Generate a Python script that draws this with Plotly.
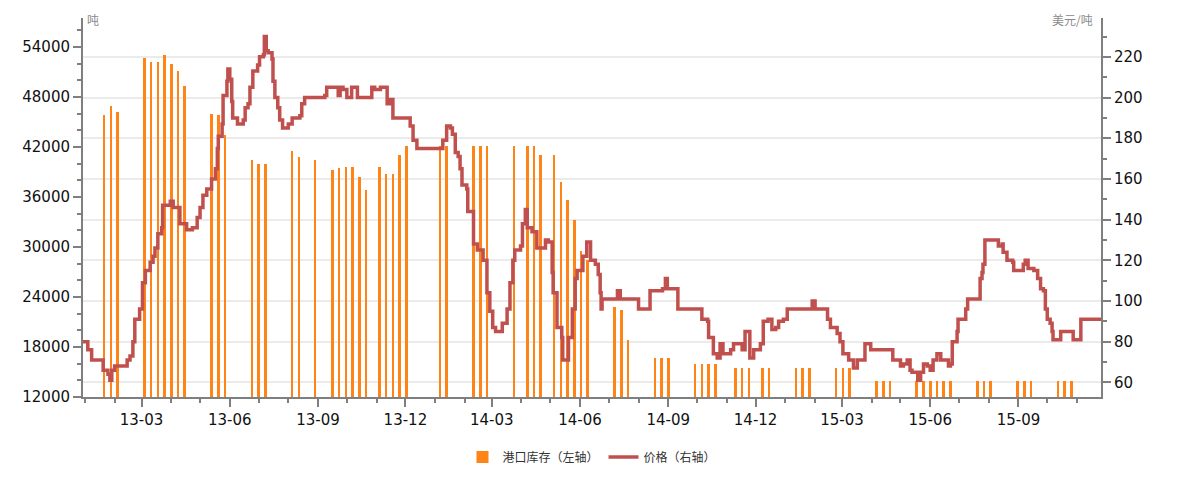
import plotly.graph_objects as go

# Weekly port stock (tonnes, left axis)
stock_dates = [
    "2013-01-21", "2013-01-28", "2013-02-04",
    "2013-03-04", "2013-03-11", "2013-03-18", "2013-03-25", "2013-04-01", "2013-04-08", "2013-04-15",
    "2013-05-13", "2013-05-20", "2013-05-27",
    "2013-06-24", "2013-07-01", "2013-07-08",
    "2013-08-05", "2013-08-12", "2013-08-29",
    "2013-09-16", "2013-09-23", "2013-09-30", "2013-10-07", "2013-10-14", "2013-10-21",
    "2013-11-04", "2013-11-11", "2013-11-18", "2013-11-25", "2013-12-02",
    "2014-01-06", "2014-01-13",
    "2014-02-10", "2014-02-17", "2014-02-24",
    "2014-03-24", "2014-04-07", "2014-04-14", "2014-04-21",
    "2014-05-05", "2014-05-12", "2014-05-19", "2014-05-26", "2014-06-02", "2014-06-09",
    "2014-07-07", "2014-07-14", "2014-07-21",
    "2014-08-18", "2014-08-25", "2014-09-01",
    "2014-09-29", "2014-10-06", "2014-10-13", "2014-10-20",
    "2014-11-10", "2014-11-17", "2014-11-24",
    "2014-12-08", "2014-12-15",
    "2015-01-12", "2015-01-19", "2015-01-26",
    "2015-02-23", "2015-03-02", "2015-03-09",
    "2015-04-06", "2015-04-13", "2015-04-20",
    "2015-05-18", "2015-05-25", "2015-06-01", "2015-06-08", "2015-06-15", "2015-06-22",
    "2015-07-20", "2015-07-27", "2015-08-03",
    "2015-08-31", "2015-09-07", "2015-09-14",
    "2015-10-12", "2015-10-19", "2015-10-26",
]
stock_values = [
    45800, 46900, 46200,
    52700, 52250, 52250, 53100, 52000, 51100, 49300,
    45950, 45800, 43500,
    40500, 40000, 40000,
    41500, 40850, 40500,
    39300, 39500, 39650, 39650, 38400, 36900,
    39650, 38800, 38800, 41050, 42100,
    42100, 42100,
    42100, 42100, 42100,
    42100, 42100, 42100, 41050,
    41050, 37800, 35700, 33300, 29500, 28500,
    22850, 22500, 18900,
    16700, 16700, 16700,
    16000, 16000, 16000, 16000,
    15500, 15500, 15500,
    15500, 15500,
    15500, 15500, 15500,
    15500, 15500, 15500,
    13900, 13900, 13900,
    13900, 13900, 13900, 13900, 13900, 13900,
    13900, 13900, 13900,
    13900, 13900, 13900,
    13900, 13900, 13900,
]

# Price (USD/tonne, right axis)
price_dates = [
    "2012-12-30", "2013-01-03", "2013-01-04", "2013-01-08", "2013-01-19", "2013-01-20", "2013-01-25",
    "2013-01-27", "2013-01-29", "2013-02-01", "2013-02-14", "2013-02-17", "2013-02-20", "2013-02-22",
    "2013-02-27", "2013-03-02", "2013-03-05", "2013-03-10", "2013-03-13", "2013-03-15", "2013-03-18",
    "2013-03-22", "2013-03-23", "2013-03-31", "2013-04-03", "2013-04-10", "2013-04-17", "2013-04-23",
    "2013-04-28", "2013-05-01", "2013-05-04", "2013-05-08", "2013-05-13", "2013-05-17", "2013-05-19",
    "2013-05-20", "2013-05-24", "2013-05-25", "2013-05-29", "2013-05-30", "2013-06-01", "2013-06-03",
    "2013-06-04", "2013-06-09", "2013-06-15", "2013-06-17", "2013-06-20", "2013-06-22", "2013-06-25",
    "2013-06-30", "2013-07-02", "2013-07-06", "2013-07-07", "2013-07-09", "2013-07-11", "2013-07-15",
    "2013-07-16", "2013-07-18", "2013-07-21", "2013-07-23", "2013-07-26", "2013-08-01", "2013-08-05",
    "2013-08-13", "2013-08-15", "2013-08-18", "2013-09-08", "2013-09-10", "2013-09-21", "2013-09-22",
    "2013-09-24", "2013-09-27", "2013-10-01", "2013-10-06", "2013-10-12", "2013-10-23", "2013-10-27",
    "2013-10-30", "2013-11-05", "2013-11-10", "2013-11-12", "2013-11-15", "2013-11-18", "2013-12-01",
    "2013-12-06", "2013-12-09", "2013-12-13", "2014-01-06", "2014-01-09", "2014-01-13", "2014-01-17",
    "2014-01-19", "2014-01-22", "2014-01-25", "2014-01-27", "2014-01-29", "2014-02-03", "2014-02-04",
    "2014-02-10", "2014-02-14", "2014-02-20", "2014-02-24", "2014-02-27", "2014-03-02", "2014-03-05",
    "2014-03-10", "2014-03-12", "2014-03-17", "2014-03-20", "2014-03-23", "2014-03-25", "2014-03-31",
    "2014-04-02", "2014-04-05", "2014-04-07", "2014-04-12", "2014-04-17", "2014-04-24", "2014-04-26",
    "2014-04-29", "2014-05-03", "2014-05-04", "2014-05-08", "2014-05-13", "2014-05-14", "2014-05-19",
    "2014-05-20", "2014-05-24", "2014-05-27", "2014-05-29", "2014-06-01", "2014-06-04", "2014-06-08",
    "2014-06-12", "2014-06-17", "2014-06-20", "2014-06-22", "2014-06-23", "2014-06-24", "2014-07-06",
    "2014-07-10", "2014-07-13", "2014-07-29", "2014-08-01", "2014-08-11", "2014-08-13", "2014-08-26",
    "2014-08-29", "2014-08-31", "2014-09-08", "2014-09-11", "2014-10-04", "2014-10-06", "2014-10-12",
    "2014-10-13", "2014-10-18", "2014-10-22", "2014-10-25", "2014-10-28", "2014-11-05", "2014-11-08",
    "2014-11-15", "2014-11-17", "2014-11-20", "2014-11-23", "2014-11-25", "2014-11-29", "2014-12-06",
    "2014-12-09", "2014-12-14", "2014-12-18", "2014-12-22", "2014-12-25", "2014-12-30", "2015-01-03",
    "2015-01-27", "2015-01-29", "2015-02-01", "2015-02-10", "2015-02-14", "2015-02-17", "2015-02-24",
    "2015-02-27", "2015-03-02", "2015-03-08", "2015-03-13", "2015-03-17", "2015-03-22", "2015-03-25",
    "2015-03-29", "2015-03-31", "2015-04-18", "2015-04-23", "2015-04-28", "2015-05-01", "2015-05-04",
    "2015-05-08", "2015-05-11", "2015-05-13", "2015-05-19", "2015-05-22", "2015-05-25", "2015-05-29",
    "2015-06-01", "2015-06-04", "2015-06-08", "2015-06-12", "2015-06-17", "2015-06-20", "2015-06-22",
    "2015-06-24", "2015-06-29", "2015-06-30", "2015-07-06", "2015-07-08", "2015-07-10", "2015-07-21",
    "2015-07-23", "2015-07-25", "2015-07-26", "2015-07-28", "2015-08-10", "2015-08-11", "2015-08-15",
    "2015-08-16", "2015-08-20", "2015-08-26", "2015-08-27", "2015-09-06", "2015-09-08", "2015-09-11",
    "2015-09-17", "2015-09-21", "2015-09-24", "2015-09-27", "2015-09-29", "2015-10-01", "2015-10-04",
    "2015-10-06", "2015-10-07", "2015-10-13", "2015-10-15", "2015-10-25", "2015-10-28", "2015-11-03",
    "2015-11-05", "2015-11-26",
]
price_values = [
    80, 80, 76, 71, 71, 66, 64,
    61, 66, 68, 71, 73, 80, 91,
    96, 109, 115, 119, 122, 126, 133,
    136, 147, 149, 146, 138, 135, 136,
    141, 146, 152, 155, 160, 165, 175,
    181, 187, 201, 208, 214, 209, 198,
    190, 187, 189, 195, 197, 205, 213,
    216, 220, 221, 230, 223, 222, 219,
    208, 200, 195, 189, 185, 187, 190,
    191, 197, 200, 201, 205, 205, 201,
    205, 204, 200, 205, 200, 200, 205,
    204, 205, 205, 197, 199, 190, 190,
    186, 179, 175, 175, 179, 186, 185,
    182, 173, 171, 165, 157, 155, 144,
    128, 125, 120, 104, 95, 87, 85,
    85, 89, 96, 109, 120, 125, 127,
    138, 145, 136, 134, 126, 126, 130,
    129, 114, 104, 87, 82, 71, 71,
    82, 96, 111, 115, 115, 122, 129,
    120, 118, 113, 104, 96, 101, 101,
    105, 101, 101, 96, 96, 105, 106,
    111, 106, 106, 96, 96, 91, 90,
    82, 74, 72, 79, 74, 76, 79,
    79, 76, 85, 85, 72, 76, 79,
    90, 91, 86, 87, 90, 91, 96,
    96, 100, 96, 96, 91, 87, 84,
    80, 74, 71, 67, 71, 71, 79,
    79, 76, 76, 71, 71, 68, 69,
    71, 66, 65, 61, 65, 69, 68,
    66, 71, 74, 71, 71, 68, 69,
    80, 85, 91, 91, 96, 101, 101,
    111, 114, 118, 130, 130, 127, 128,
    124, 120, 119, 115, 118, 120, 116,
    115, 111, 106, 105, 96, 91, 89,
    85, 81, 81, 85, 85, 81, 81,
    91, 91,
]

left_ticks = [12000, 18000, 24000, 30000, 36000, 42000, 48000, 54000]
right_ticks = [60, 80, 100, 120, 140, 160, 180, 200, 220]

BAR_COLOR = "#FF8418"
LINE_COLOR = "#C0504D"
AXIS_COLOR = "#7f7f7f"
TICK_FONT = dict(family="DejaVu Sans", size=15, color="#111111")
DAY_MS = 86400000

fig = go.Figure()

fig.add_trace(go.Bar(
    x=stock_dates,
    y=stock_values,
    width=[2.7 * DAY_MS] * len(stock_dates),
    marker=dict(color=BAR_COLOR, line=dict(width=0)),
    name="港口库存（左轴）",
    yaxis="y",
))

fig.add_trace(go.Scatter(
    x=price_dates,
    y=price_values,
    mode="lines",
    line=dict(color=LINE_COLOR, width=3.5, shape="hv"),
    name="价格（右轴）",
    yaxis="y2",
))

fig.update_layout(
    width=1188,
    height=483,
    margin=dict(l=83, r=87, t=18, b=75),
    paper_bgcolor="white",
    plot_bgcolor="white",
    bargap=0,
    showlegend=True,
    legend=dict(
        orientation="h",
        x=0.5, xanchor="center",
        y=-0.12, yanchor="top",
        font=dict(family="Noto Sans CJK SC", size=12, color="#333333"),
    ),
    xaxis=dict(
        type="date",
        range=["2012-12-30", "2015-11-26"],
        tick0="2013-03-01",
        dtick="M3",
        tickformat="%y-%m",
        ticks="outside",
        ticklen=8,
        tickwidth=1.5,
        tickcolor=AXIS_COLOR,
        tickfont=TICK_FONT,
        showline=True,
        linecolor=AXIS_COLOR,
        linewidth=2,
        showgrid=False,
        zeroline=False,
        minor=dict(dtick="M1", tick0="2013-01-01", ticks="outside", ticklen=4,
                   tickcolor=AXIS_COLOR, showgrid=False),
    ),
    yaxis=dict(
        range=[12000, 57500],
        tickvals=left_ticks,
        tickformat="d",
        ticks="outside",
        ticklen=8,
        tickwidth=1.5,
        tickcolor=AXIS_COLOR,
        tickfont=TICK_FONT,
        showline=True,
        linecolor=AXIS_COLOR,
        linewidth=2,
        showgrid=False,
        zeroline=False,
        minor=dict(dtick=2000, tick0=12000, ticks="outside", ticklen=4,
                   tickcolor=AXIS_COLOR, showgrid=False),
    ),
    yaxis2=dict(
        overlaying="y",
        side="right",
        range=[52.8, 239.1],
        tickvals=right_ticks,
        ticks="outside",
        ticklen=8,
        tickwidth=1.5,
        tickcolor=AXIS_COLOR,
        tickfont=TICK_FONT,
        showline=True,
        linecolor=AXIS_COLOR,
        linewidth=2,
        showgrid=True,
        gridcolor="#ebebeb",
        gridwidth=1.5,
        zeroline=False,
        minor=dict(dtick=10, tick0=60, ticks="outside", ticklen=4,
                   tickcolor=AXIS_COLOR, showgrid=False),
    ),
    annotations=[
        dict(text="吨", xref="paper", yref="paper", x=0.002, y=0.995,
             xanchor="left", yanchor="middle", showarrow=False,
             font=dict(family="Noto Sans CJK SC", size=12, color="#8a8a8a")),
        dict(text="美元/吨", xref="paper", yref="paper", x=0.994, y=0.995,
             xanchor="right", yanchor="middle", showarrow=False,
             font=dict(family="Noto Sans CJK SC", size=12, color="#8a8a8a")),
    ],
)

fig.write_html("out.html")
